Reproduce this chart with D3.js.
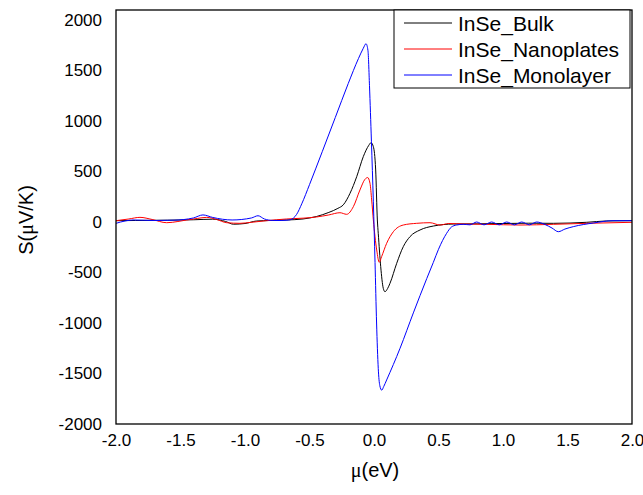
<!DOCTYPE html>
<html>
<head>
<meta charset="utf-8">
<script src="https://cdn.jsdelivr.net/npm/d3@7"></script>
<style>
  html, body { margin: 0; padding: 0; background: #fff; }
  svg { display: block; }
  text { font-family: Arial, "Liberation Sans", sans-serif; fill: #000; }
</style>
</head>
<body>
<svg id="chart" width="643" height="495"></svg>
<script>
// Seebeck coefficient S(μ) of InSe in three forms
const seriesNames = ["InSe_Bulk", "InSe_Nanoplates", "InSe_Monolayer"];
const seriesColors = ["#000000", "#ff0000", "#0000ff"];

const bulkMu = [-2.0, -1.85, -1.6, -1.4, -1.25, -1.15, -1.09, -1.0, -0.91, -0.8, -0.677, -0.55, -0.444, -0.35, -0.28, -0.238, -0.186, -0.134, -0.083, -0.04, -0.023, -0.005, 0.013, 0.026, 0.033, 0.052, 0.072, 0.085, 0.105, 0.124, 0.176, 0.227, 0.279, 0.357, 0.46, 0.615, 0.8, 1.0, 1.2, 1.39, 1.649, 1.8, 2.0];
const bulkS  = [13, 15, 18, 22, 28, 5, -22, -15, 10, 15, 20, 30, 55, 95, 135, 170, 284, 449, 647, 760, 785, 746, 515, 20, -112, -442, -657, -690, -660, -607, -409, -244, -145, -79, -40, -20, -18, -15, -12, -13, -3, 10, 13];

const nanoMu = [-2.0, -1.9, -1.814, -1.72, -1.607, -1.52, -1.452, -1.37, -1.297, -1.22, -1.142, -1.039, -0.95, -0.832, -0.677, -0.55, -0.444, -0.35, -0.264, -0.212, -0.16, -0.109, -0.07, -0.049, -0.031, -0.018, -0.005, 0.021, 0.041, 0.059, 0.098, 0.15, 0.227, 0.331, 0.434, 0.512, 0.58, 0.7, 0.873, 1.132, 1.39, 1.65, 2.0];
const nanoS  = [13, 30, 46, 25, -7, 5, 20, 35, 46, 25, -7, -13, -3, 13, 30, 38, 50, 70, 92, 76, 152, 317, 423, 440, 383, 218, 20, -277, -399, -343, -211, -96, -30, -13, -7, -30, -15, -20, -23, -30, -23, -13, -3];

const monoMu = [-2.0, -1.93, -1.868, -1.7, -1.55, -1.4, -1.326, -1.25, -1.1, -0.95, -0.899, -0.85, -0.78, -0.72, -0.674, -0.65, -0.625, -0.6, -0.56, -0.5, -0.4, -0.3, -0.2, -0.12, -0.083, -0.062, -0.047, -0.035, -0.02, -0.005, 0.008, 0.02, 0.033, 0.045, 0.06, 0.075, 0.098, 0.202, 0.305, 0.409, 0.46, 0.5, 0.563, 0.6, 0.64, 0.692, 0.744, 0.796, 0.853, 0.912, 0.971, 1.029, 1.088, 1.145, 1.204, 1.261, 1.326, 1.38, 1.429, 1.48, 1.545, 1.7, 1.853, 2.0];
const monoS  = [-13, 10, 20, 15, 18, 40, 70, 45, 20, 40, 62, 30, 15, 15, 18, 22, 38, 75, 180, 370, 700, 1035, 1370, 1620, 1720, 1765, 1700, 1350, 800, 200, -400, -1000, -1450, -1620, -1665, -1630, -1564, -1250, -900, -560, -400, -270, -112, -50, -30, -23, -28, 0, -28, 0, -28, 0, -28, 0, -28, 0, -25, -60, -96, -70, -46, -10, 13, 13];

const xTicks = [-2.0, -1.5, -1.0, -0.5, 0.0, 0.5, 1.0, 1.5, 2.0];
const yTicks = [-2000, -1500, -1000, -500, 0, 500, 1000, 1500, 2000];

const series = [
  { name: seriesNames[0], color: seriesColors[0], mu: bulkMu, s: bulkS },
  { name: seriesNames[1], color: seriesColors[1], mu: nanoMu, s: nanoS },
  { name: seriesNames[2], color: seriesColors[2], mu: monoMu, s: monoS }
];

const svg = d3.select("#chart");
const plot = { left: 116, right: 632, top: 10, bottom: 424 };

const x = d3.scaleLinear().domain([-2, 2]).range([plot.left, plot.right]);
const y = d3.scaleLinear().domain([-2000, 2000]).range([424, 20]);

// Plain hyphen-minus for negative tick labels
const hyphen = f => d => f(d).replace("\u2212", "-");

// Curves
const line = d3.line()
  .x(d => x(d[0]))
  .y(d => y(d[1]))
  .curve(d3.curveMonotoneX);

svg.append("clipPath").attr("id", "plotClip")
  .append("rect")
  .attr("x", plot.left).attr("y", plot.top)
  .attr("width", plot.right - plot.left).attr("height", plot.bottom - plot.top);

const lines = svg.append("g").attr("clip-path", "url(#plotClip)");
series.forEach(sr => {
  lines.append("path")
    .datum(sr.mu.map((m, i) => [m, sr.s[i]]))
    .attr("fill", "none")
    .attr("stroke", sr.color)
    .attr("stroke-width", 1)
    .attr("d", line);
});

// Axes: labels only, no tick marks
const xAxis = d3.axisBottom(x).tickValues(xTicks).tickSize(0).tickPadding(10)
  .tickFormat(hyphen(d3.format(".1f")));
const gx = svg.append("g").attr("transform", `translate(0,${plot.bottom})`).call(xAxis);
gx.select(".domain").remove();
gx.selectAll("text").style("font-size", "17px").style("font-family", "Arial, 'Liberation Sans', sans-serif").attr("fill", "#000");

const yAxis = d3.axisLeft(y).tickValues(yTicks).tickSize(0).tickPadding(14)
  .tickFormat(hyphen(d3.format("d")));
const gy = svg.append("g").attr("transform", `translate(${plot.left},0)`).call(yAxis);
gy.select(".domain").remove();
gy.selectAll("text").style("font-size", "17px").style("font-family", "Arial, 'Liberation Sans', sans-serif").attr("fill", "#000");

// Frame
svg.append("rect")
  .attr("x", plot.left).attr("y", plot.top)
  .attr("width", plot.right - plot.left).attr("height", plot.bottom - plot.top)
  .attr("fill", "none").attr("stroke", "#000").attr("stroke-width", 1.3);

// Axis titles
const xt = svg.append("text")
  .attr("x", 375).attr("y", 477)
  .attr("text-anchor", "middle")
  .style("font-size", "20px");
xt.append("tspan").style("font-family", "'Liberation Serif', 'Times New Roman', serif").text("μ");
xt.append("tspan").text("(eV)");

const yt = svg.append("text")
  .attr("transform", "translate(33,220) rotate(-90)")
  .attr("text-anchor", "middle")
  .style("font-size", "20px");
yt.append("tspan").text("S(");
yt.append("tspan").style("font-family", "'Liberation Serif', 'Times New Roman', serif").text("μ");
yt.append("tspan").text("V/K)");

// Legend
const legend = svg.append("g");
legend.append("rect")
  .attr("x", 394).attr("y", 10).attr("width", 236).attr("height", 78)
  .attr("fill", "#fff").attr("stroke", "#000").attr("stroke-width", 1);
series.forEach((sr, i) => {
  const ly = 23 + i * 26;
  legend.append("line")
    .attr("x1", 404).attr("x2", 452).attr("y1", ly).attr("y2", ly)
    .attr("stroke", sr.color).attr("stroke-width", 1);
  legend.append("text")
    .attr("x", 458).attr("y", ly + 8)
    .style("font-size", "21px")
    .text(sr.name);
});
</script>
</body>
</html>
